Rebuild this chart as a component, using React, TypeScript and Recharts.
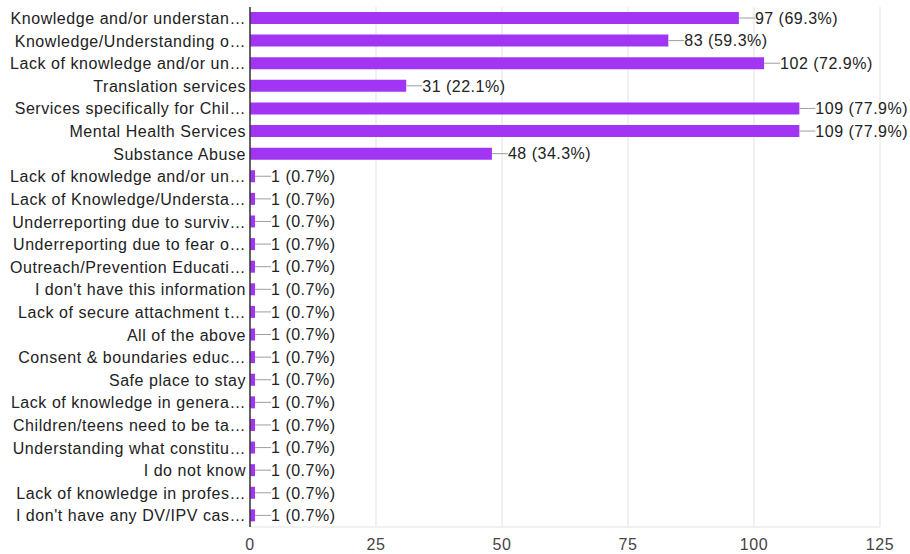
import React from "react";
import { BarChart, Bar, XAxis, YAxis, CartesianGrid, LabelList } from "recharts";

// answer options, as shown (truncated) in the reference
const categories = [
    "Knowledge and/or understan…",
    "Knowledge/Understanding o…",
    "Lack of knowledge and/or un…",
    "Translation services",
    "Services specifically for Chil…",
    "Mental Health Services",
    "Substance Abuse",
    "Lack of knowledge and/or un…",
    "Lack of Knowledge/Understa…",
    "Underreporting due to surviv…",
    "Underreporting due to fear o…",
    "Outreach/Prevention Educati…",
    "I don't have this information",
    "Lack of secure attachment t…",
    "All of the above",
    "Consent & boundaries educ…",
    "Safe place to stay",
    "Lack of knowledge in genera…",
    "Children/teens need to be ta…",
    "Understanding what constitu…",
    "I do not know",
    "Lack of knowledge in profes…",
    "I don't have any DV/IPV cas…",
];

const counts = [97, 83, 102, 31, 109, 109, 48, 1, 1, 1, 1, 1, 1, 1, 1, 1, 1, 1, 1, 1, 1, 1, 1];
const percents = [69.3, 59.3, 72.9, 22.1, 77.9, 77.9, 34.3, 0.7, 0.7, 0.7, 0.7, 0.7, 0.7, 0.7, 0.7, 0.7, 0.7, 0.7, 0.7, 0.7, 0.7, 0.7, 0.7];
const xTicks = [0, 25, 50, 75, 100, 125];

const FONT = "'Liberation Sans', Arial, sans-serif";
const PURPLE = "#a234f4";

const data = categories.map((name, i) => ({
    key: `${i}`,
    name,
    count: counts[i],
    label: `${counts[i]} (${percents[i]}%)`,
}));

const CategoryTick = (props: any) => {
    const { x, y, payload } = props;
    const row = data[Number(payload.value)];
    return (
        <text x={x} y={y} dy="0.36em" textAnchor="end" fontFamily={FONT} fontSize={16}
              letterSpacing={0.55} fill="#222">
            {row ? row.name : ""}
        </text>
    );
};

// grey leader line from the bar end, then "n (p%)"
const ValueLabel = (props: any) => {
    const { x, y, width, height, value } = props;
    const x0 = x + width;
    const cy = y + height / 2;
    return (
        <g>
            <line x1={x0} y1={cy} x2={x0 + 16} y2={cy} stroke="#9e9e9e" strokeWidth={1} />
            <text x={x0 + 16} y={cy} dy="0.36em" fontFamily={FONT} fontSize={16}
                  letterSpacing={0.5} fill="#222">
                {value}
            </text>
        </g>
    );
};

export default function App() {
    return (
        <div style={{ position: "fixed", left: 0, top: 0, width: 910, height: 554, background: "#fff" }}>
            <BarChart width={910} height={554} data={data} layout="vertical"
                      margin={{ top: 7, right: 30, bottom: 0, left: 0 }} barSize={12}
                      style={{ overflow: "visible" }}>
                <CartesianGrid horizontal={false} stroke="#e3e3e3" xAxisId="bottom" />
                <XAxis xAxisId="bottom" type="number" domain={[0, 125]} ticks={xTicks}
                       height={27} tickSize={0} tickMargin={12} axisLine={{ stroke: "#e3e3e3" }}
                       tick={{ fontFamily: FONT, fontSize: 16, fill: "#444", letterSpacing: 0.55 }} />
                <XAxis xAxisId="top" orientation="top" type="number" domain={[0, 125]} ticks={xTicks}
                       height={0} tick={false} tickLine={false} axisLine={{ stroke: "#e3e3e3" }} />
                <YAxis type="category" dataKey="key" width={250} tickSize={0} tickMargin={4}
                       interval={0} axisLine={{ stroke: "#333", strokeWidth: 1.5 }} tick={<CategoryTick />} />
                <Bar dataKey="count" xAxisId="bottom" fill={PURPLE} isAnimationActive={false}>
                    <LabelList dataKey="label" content={<ValueLabel />} />
                </Bar>
            </BarChart>
        </div>
    );
}
